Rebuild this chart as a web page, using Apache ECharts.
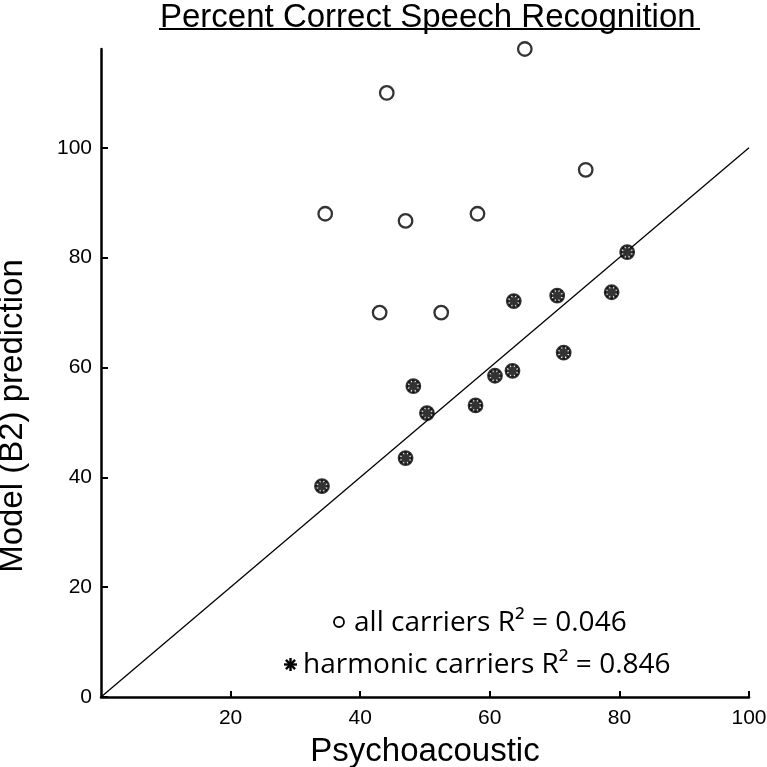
<!DOCTYPE html>
<html>
<head>
<meta charset="utf-8">
<script src="https://cdn.jsdelivr.net/npm/echarts@6/dist/echarts.min.js"></script>
<style>html,body{margin:0;padding:0;background:#fff}#c{width:767px;height:767px}</style>
</head>
<body>
<div id="c"></div>
<script>
// Non-harmonic carriers (open circles only)
const otherX = [65.4, 44.1, 74.8, 34.6, 47.0, 58.1, 43.0, 52.5];
const otherY = [118.0, 110.0, 96.0, 88.0, 86.7, 88.0, 70.0, 70.0];
// Harmonic carriers (circle + asterisk)
const harmX = [34.1, 47.0, 48.2, 50.3, 57.8, 60.8, 63.5, 63.7, 70.4, 71.4, 78.8, 81.2];
const harmY = [38.4, 43.5, 56.6, 51.7, 53.1, 58.5, 59.4, 72.1, 73.1, 62.7, 73.7, 81.0];
const xTicks = [20, 40, 60, 80, 100];
const yTicks = [0, 20, 40, 60, 80, 100];
const identity = [[0, 0], [100, 100]];

const titleText = 'Percent Correct Speech Recognition';
const legendAll = 'all carriers R\u00B2 = 0.046';
const legendHarm = 'harmonic carriers R\u00B2 = 0.846';

const allPts = otherX.map((x, i) => [x, otherY[i]]).concat(harmX.map((x, i) => [x, harmY[i]]));
const harmPts = harmX.map((x, i) => [x, harmY[i]]);

const star = 'path://M0,-10L0,10M-10,0L10,0M-7.07,-7.07L7.07,7.07M-7.07,7.07L7.07,-7.07';

function starLines(cx, cy, r, w) {
  const d = r * 0.7071;
  const segs = [[0, -r, 0, r], [-r, 0, r, 0], [-d, -d, d, d], [-d, d, d, -d]];
  return segs.map(s => ({ type: 'line', shape: { x1: cx + s[0], y1: cy + s[1], x2: cx + s[2], y2: cy + s[3] }, style: { stroke: '#000', lineWidth: w } }));
}

const chart = echarts.init(document.getElementById('c'));
const tickFont = { fontFamily: 'Liberation Sans, Arial, sans-serif', fontSize: 21, color: '#000' };
const legendFont = '28px "Open Sans", Lato, sans-serif';
chart.setOption({
  animation: false,
  backgroundColor: '#fff',
  title: {
    text: titleText,
    left: 155,
    top: -4,
    textStyle: { fontFamily: 'Liberation Sans, Arial, sans-serif', fontSize: 33, fontWeight: 'normal', color: '#000' }
  },
  grid: { left: 101, right: 18, top: 49, bottom: 70, containLabel: false, outerBoundsMode: 'none' },
  xAxis: {
    type: 'value', min: 0, max: 100, interval: 20,
    name: 'Psychoacoustic', nameLocation: 'middle', nameGap: 38,
    nameTextStyle: { fontFamily: 'Liberation Sans, Arial, sans-serif', fontSize: 33, color: '#000' },
    splitLine: { show: false },
    axisLine: { lineStyle: { color: '#000', width: 2.5 } },
    axisTick: { inside: true, length: 6, lineStyle: { color: '#000', width: 2 }, customValues: xTicks },
    axisLabel: Object.assign({ margin: 11, customValues: xTicks }, tickFont)
  },
  yAxis: {
    type: 'value', min: 0, max: 118, interval: 20,
    name: 'Model (B2) prediction', nameLocation: 'middle', nameGap: 72, nameRotate: 90,
    nameTextStyle: { fontFamily: 'Liberation Sans, Arial, sans-serif', fontSize: 33, color: '#000', padding: [0, 86, 0, 0] },
    splitLine: { show: false },
    axisLine: { lineStyle: { color: '#000', width: 2.5 } },
    axisTick: { inside: true, length: 7, lineStyle: { color: '#000', width: 2 }, customValues: yTicks },
    axisLabel: Object.assign({ margin: 9, customValues: yTicks }, tickFont)
  },
  series: [
    {
      type: 'line', data: identity, symbol: 'none', silent: true,
      lineStyle: { color: '#000', width: 1.3 }, z: 1
    },
    {
      name: 'all carriers', type: 'scatter', data: allPts, symbol: 'circle', symbolSize: 13.5,
      itemStyle: { color: '#fff', borderColor: '#000', borderWidth: 2.3 }, z: 3
    },
    {
      name: 'harmonic carriers', type: 'scatter', data: harmPts, symbol: star, symbolSize: 13,
      itemStyle: { color: 'none', borderColor: '#000', borderWidth: 2.8 }, z: 4
    }
  ],
  graphic: [
    { type: 'line', shape: { x1: 159, y1: 29, x2: 700, y2: 29 }, style: { stroke: '#000', lineWidth: 2 } },
    { type: 'circle', shape: { cx: 339, cy: 622, r: 5 }, style: { fill: '#fff', stroke: '#000', lineWidth: 1.8 } },
    { type: 'text', x: 354, y: 609, style: { text: legendAll, font: legendFont, fill: '#000' } },
    { type: 'group', children: starLines(290.5, 664.5, 6.5, 2.4) },
    { type: 'text', x: 303, y: 651, style: { text: legendHarm, font: legendFont, fill: '#000' } }
  ]
});
</script>
</body>
</html>
